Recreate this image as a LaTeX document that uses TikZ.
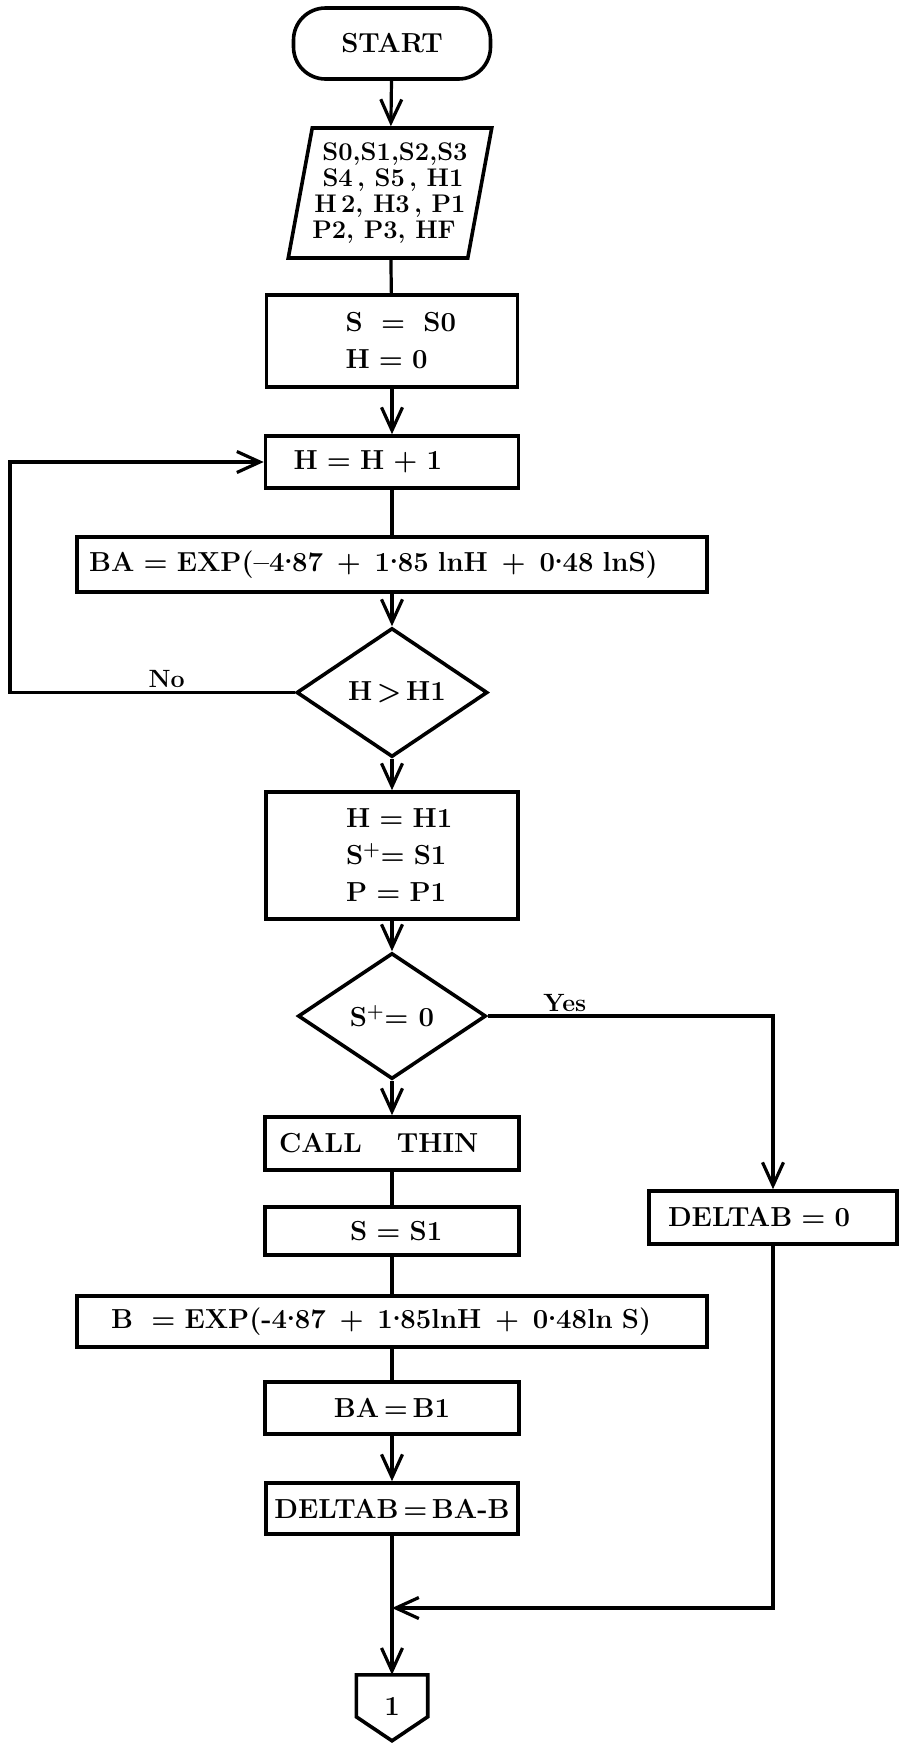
\documentclass[tikz,border=0pt]{standalone}
\usepackage{fontspec}
\usetikzlibrary{arrows.meta,shapes.geometric,calc}
\newcommand\pd{\kern-0.5pt\raisebox{0.3em}{.}\kern-0.5pt}
\begin{document}
\begin{tikzpicture}[x=1pt,y=-1pt,
  every node/.style={font=\fontsize{27.5}{37}\selectfont\bfseries},
  outline/.style={draw, line width=3.6pt},
  box/.style={outline, inner xsep=0pt, inner ysep=2pt},
  lbox/.style={box, minimum width=#1, text width=#1, align=left},
  cbox/.style={box, minimum width=#1, text width=#1, align=center},
  dec/.style={outline, diamond, inner sep=0pt},
  conn/.style={line width=3.2pt},
  arr/.style={conn, -{Straight Barb[length=23pt,width=21pt]}},
  lbl/.style={font=\fontsize{25}{30}\selectfont\bfseries, inner sep=3pt}]
\useasboundingbox (0,0) rectangle (900,1743);

% nodes
\node[outline, rounded corners=32pt, minimum width=197pt, minimum height=71pt] (start) at (392,43.5) {START};
\node[outline, trapezium, trapezium left angle=76.6, trapezium right angle=103.4,
      trapezium stretches=true, minimum width=189pt, minimum height=130pt, inner sep=0pt,
      align=center, font=\fontsize{25.5}{26}\selectfont\bfseries] (inp) at (390,193)
  {\hspace*{10pt}S0,S1,S2,S3\\ \hspace*{6pt}S4\,, S5\,, H1\\ H\,2, H3\,, P1\hspace*{6pt}\\ P2, P3, HF\hspace*{12pt}};
\node[lbox=251pt, minimum height=92pt] (s0) at (392,341) {\hspace*{79pt}S\ \ =\ \ S0\\\hspace*{79pt}H = 0};
\node[lbox=253pt, minimum height=52pt] (h1) at (392,462) {\hspace*{28pt}H = H + 1};
\node[lbox=630pt, minimum height=55pt] (ba) at (392,564.5) {\hspace*{12pt}BA = EXP(–4\pd87\enspace+\enspace1\pd85 lnH\enspace+\enspace0\pd48 lnS)};
\node[dec, minimum width=191pt, minimum height=129pt] (t1) at (392,692.5) {\hspace*{10pt}H\,>\,H1};
\node[lbox=252pt, minimum height=127pt] (hh1) at (392,855.5) {\hspace*{80pt}H = H1\\\hspace*{80pt}S\textsuperscript{+}= S1\\\hspace*{80pt}P = P1};
\node[dec, minimum width=188pt, minimum height=126pt] (t2) at (392,1016) {S\textsuperscript{+}= 0};
\node[lbox=254pt, minimum height=53pt] (call) at (392,1143.5) {\hspace*{14pt}CALL\hspace{35pt}THIN};
\node[lbox=254pt, minimum height=48pt] (ss1) at (392,1231) {\hspace*{85pt}S = S1};
\node[lbox=630pt, minimum height=51pt] (b) at (392,1321.5) {\hspace*{34pt}B\ \ = EXP(-4\pd87\enspace+\enspace1\pd85lnH\enspace+\enspace0\pd48ln S)};
\node[cbox=254pt, minimum height=52pt] (bab1) at (392,1408) {BA\,=\,B1};
\node[cbox=252pt, minimum height=51pt] (delta) at (392,1508.5) {DELTAB\,=\,BA-B};
\node[lbox=248pt, minimum height=53pt] (dz) at (773,1217.5) {\hspace*{19pt}DELTAB = 0};
\node[minimum width=71pt, minimum height=62pt, inner sep=0pt] (cn) at (392,1706) {1};
\draw[outline] (cn.north west) -- (cn.north east) -- ($(cn.north east)+(0,42)$)
  -- ($(cn.north)+(0,66)$) -- ($(cn.north west)+(0,42)$) -- cycle;

\coordinate (lc) at (10,0);
\coordinate (jn) at (392,1608);

% connectors
\draw[arr] (start) -- (inp);
\draw[conn] (inp) -- (s0);
\draw[arr] (s0) -- (h1);
\draw[conn] (h1) -- (ba);
\draw[arr] (ba) -- (t1);
\draw[arr] (t1.west) -- node[lbl, above, pos=0.45] {No} (t1.west -| lc) |- (h1.west);
\draw[arr] (t1) -- (hh1);
\draw[arr] (hh1) -- (t2);
\draw[arr] (t2.east) -- node[lbl, above, pos=0.27] {Yes} (t2.east -| dz.north) -- (dz.north);
\draw[arr] (t2) -- (call);
\draw[conn] (call) -- (ss1);
\draw[conn] (ss1) -- (b);
\draw[conn] (b) -- (bab1);
\draw[arr] (bab1) -- (delta);
\draw[arr] (delta) -- (cn.north);
\draw[arr] (dz.south) |- (jn);
\end{tikzpicture}
\end{document}
